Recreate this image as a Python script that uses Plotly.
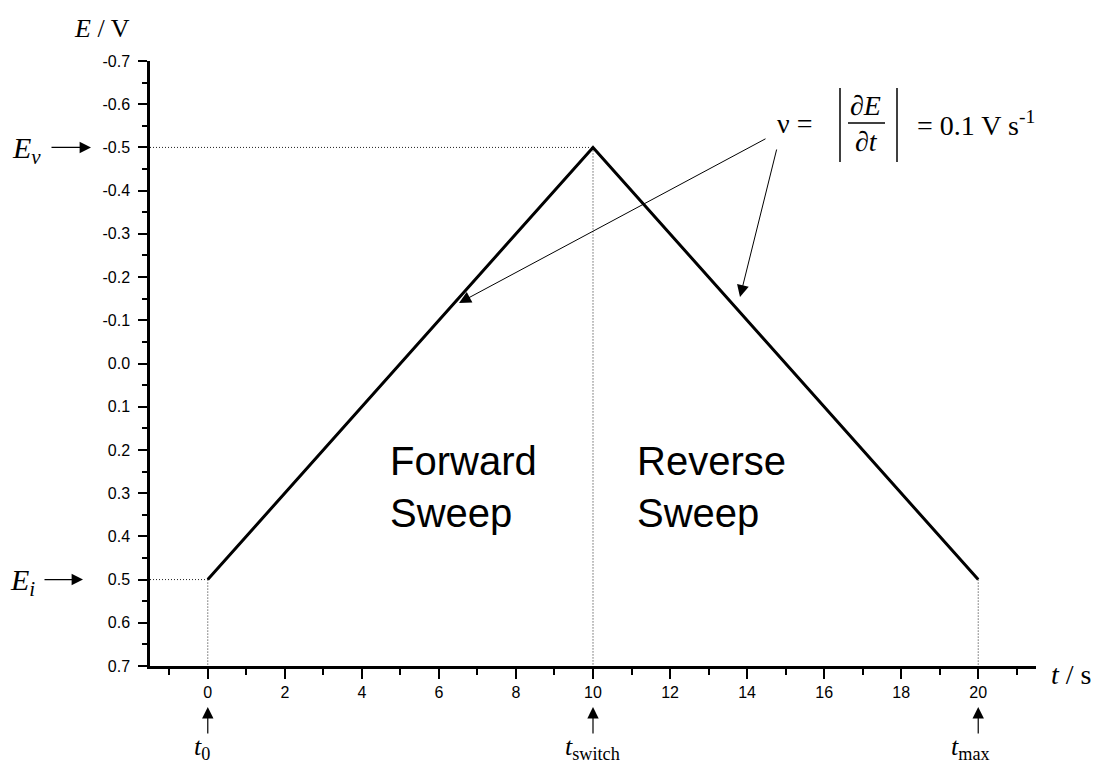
import plotly.graph_objects as go

# ---- data ----
t = [0, 10, 20]
E = [0.5, -0.5, 0.5]
t0, t_switch, t_max = 0, 10, 20
E_i, E_v = 0.5, -0.5

E_ticks = [-0.7, -0.6, -0.5, -0.4, -0.3, -0.2, -0.1, 0.0, 0.1, 0.2, 0.3, 0.4, 0.5, 0.6, 0.7]
E_ticklabels = ["-0.7", "-0.6", "-0.5", "-0.4", "-0.3", "-0.2", "-0.1", "0.0",
                "0.1", "0.2", "0.3", "0.4", "0.5", "0.6", "0.7"]
E_minor = [-0.65, -0.55, -0.45, -0.35, -0.25, -0.15, -0.05, 0.05, 0.15, 0.25, 0.35, 0.45, 0.55, 0.65]
t_ticks = [0, 2, 4, 6, 8, 10, 12, 14, 16, 18, 20]
t_ticklabels = ["0", "2", "4", "6", "8", "10", "12", "14", "16", "18", "20"]
t_minor = [-1, 1, 3, 5, 7, 9, 11, 13, 15, 17, 19, 21]
x_range = [-1.5, 21.5]
y_range = [0.7, -0.7]

# ---- geometry ----
W, H = 1096, 763
L, R, T, B = 150, 60, 61, 97
PW, PH = W - L - R, H - T - B


def px(xp):
    return (xp - L) / PW


def py(yp):
    return (H - B - yp) / PH


SERIF = "Liberation Serif, Times New Roman, serif"
SANS = "Liberation Sans, Arial, sans-serif"
DOT = dict(color="#222", width=1, dash="1px,2px")

fig = go.Figure()

# dotted guide lines
fig.add_trace(go.Scatter(x=[x_range[0], t_switch], y=[E_v, E_v], mode="lines", line=DOT, hoverinfo="skip"))
fig.add_trace(go.Scatter(x=[t_switch, t_switch], y=[E_v, y_range[0]], mode="lines", line=DOT, hoverinfo="skip"))
fig.add_trace(go.Scatter(x=[x_range[0], t0], y=[E_i, E_i], mode="lines", line=DOT, hoverinfo="skip"))
fig.add_trace(go.Scatter(x=[t0, t0], y=[E_i, y_range[0]], mode="lines", line=DOT, hoverinfo="skip"))
fig.add_trace(go.Scatter(x=[t_max, t_max], y=[E_i, y_range[0]], mode="lines", line=DOT, hoverinfo="skip"))

# main potential waveform
fig.add_trace(go.Scatter(x=t, y=E, mode="lines", line=dict(color="black", width=3), hoverinfo="skip"))

annotations = []


def txt(text, x, y, size, font=SERIF, xanchor="center", yanchor="middle", xref="paper", yref="paper", align="center"):
    annotations.append(dict(text=text, x=x, y=y, xref=xref, yref=yref, showarrow=False,
                            xanchor=xanchor, yanchor=yanchor, align=align,
                            font=dict(family=font, size=size, color="black")))


def arrow(x, y, ax, ay, width=1.2, size=1.9, xref="paper", yref="paper"):
    annotations.append(dict(text="", x=x, y=y, xref=xref, yref=yref, ax=ax, ay=ay,
                            showarrow=True, arrowhead=2, arrowsize=size, arrowwidth=width,
                            arrowcolor="black"))


# axis titles
txt("<i>E</i> / V", px(102), py(28), 26)
txt("<i>t</i> / s", px(1071), py(674), 28)

# E_v and E_i labels with arrows
txt("<i>E</i><sub><i>v</i></sub>", px(10), py(150), 30, xanchor="left")
arrow(px(91), E_v, -41, 0, yref="y")
txt("<i>E</i><sub><i>i</i></sub>", px(8), py(582), 30, xanchor="left")
arrow(px(83), E_i, -40, 0, yref="y")

# time markers
for tv, lab, dx in [(t0, "<i>t</i><sub>0</sub>", -16), (t_switch, "<i>t</i><sub>switch</sub>", -30),
                    (t_max, "<i>t</i><sub>max</sub>", -29)]:
    arrow(tv, py(707), 0, 28, xref="x")
    annotations.append(dict(text=lab, x=tv, y=py(730), xref="x", yref="paper", showarrow=False,
                            xanchor="left", yanchor="top", xshift=dx,
                            font=dict(family=SERIF, size=26, color="black")))

# sweep labels
txt("Forward<br>Sweep", 4.68, 0.285, 40, font=SANS, xanchor="left", xref="x", yref="y", align="left")
txt("Reverse<br>Sweep", 11.09, 0.285, 40, font=SANS, xanchor="left", xref="x", yref="y", align="left")

# scan-rate formula
txt("\u03bd =", px(794), py(123), 28)
txt("\u2202<i>E</i>", px(865), py(106), 28)
txt("\u2202<i>t</i>", px(866), py(142), 28)
txt("= 0.1 V s<sup>-1</sup>", px(915), py(123), 28, xanchor="left")

# arrows from formula to sweeps
arrow(px(459), py(303), 308, -165, width=1, size=2.4)
arrow(px(740), py(297), 37, -149, width=1, size=2.4)

shapes = [
    dict(type="line", xref="paper", yref="paper", x0=px(840), x1=px(840), y0=py(88), y1=py(162),
         line=dict(color="black", width=1.5)),
    dict(type="line", xref="paper", yref="paper", x0=px(897), x1=px(897), y0=py(88), y1=py(162),
         line=dict(color="black", width=1.5)),
    dict(type="line", xref="paper", yref="paper", x0=px(848), x1=px(885), y0=py(123), y1=py(123),
         line=dict(color="black", width=1.5)),
]

fig.update_layout(
    width=W, height=H,
    margin=dict(l=L, r=R, t=T, b=B, pad=0),
    paper_bgcolor="white", plot_bgcolor="white",
    showlegend=False, hovermode=False,
    annotations=annotations, shapes=shapes,
    font=dict(family=SANS, color="black"),
    xaxis=dict(range=x_range, showgrid=False, zeroline=False, showline=True, linecolor="black",
               linewidth=2.5, ticks="outside", ticklen=10, tickwidth=2, tickcolor="black",
               tickmode="array", tickvals=t_ticks, ticktext=t_ticklabels,
               tickfont=dict(family=SANS, size=16, color="black"),
               minor=dict(tickmode="array", tickvals=t_minor, ticks="outside", ticklen=6,
                          tickwidth=2, tickcolor="black", showgrid=False)),
    yaxis=dict(range=y_range, showgrid=False, zeroline=False, showline=True, linecolor="black",
               linewidth=2.5, ticks="outside", ticklen=9, tickwidth=2, tickcolor="black",
               tickmode="array", tickvals=E_ticks, ticktext=E_ticklabels, ticklabelstandoff=5,
               tickfont=dict(family=SANS, size=16, color="black"),
               minor=dict(tickmode="array", tickvals=E_minor, ticks="outside", ticklen=5,
                          tickwidth=2, tickcolor="black", showgrid=False)),
)

fig.write_html("out.html")
